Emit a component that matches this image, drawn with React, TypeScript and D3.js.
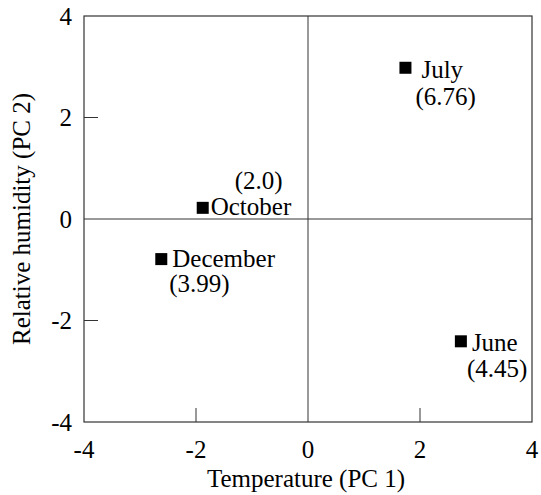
import React, { useEffect, useRef } from 'react';
import * as d3 from 'd3';

const months = ['July', 'October', 'December', 'June'];
const pc1 = [1.74, -1.88, -2.62, 2.73];
const pc2 = [2.98, 0.22, -0.79, -2.41];
const scores = ['(6.76)', '(2.0)', '(3.99)', '(4.45)'];
const xTicks = [-4, -2, 0, 2, 4];
const yTicks = [-4, -2, 0, 2, 4];

// label placement relative to the marker: [nameDx, nameDy, scoreDx, scoreDy]
const labelOffsets: Record<string, number[]> = {
  July: [16, 10, 10, 37],
  October: [8, 7, 32, -18.5],
  December: [11, 8, 8, 33],
  June: [11, 10, 6, 36],
};

const FONT = '"Liberation Serif", "Times New Roman", serif';
const FS = 25;

export default function App() {
  const svgRef = useRef<SVGSVGElement>(null);

  useEffect(() => {
    const width = 541;
    const height = 495;
    const margin = { top: 16, right: 9, bottom: 73, left: 84 };
    const svg = d3.select(svgRef.current);
    svg.selectAll('*').remove();

    const innerW = width - margin.left - margin.right;
    const innerH = height - margin.top - margin.bottom;

    const x = d3.scaleLinear().domain([-4, 4]).range([0, innerW]);
    const y = d3.scaleLinear().domain([-4, 4]).range([innerH, 0]);

    const g = svg.append('g').attr('transform', `translate(${margin.left},${margin.top})`);

    g.append('rect')
      .attr('width', innerW)
      .attr('height', innerH)
      .attr('fill', 'none')
      .attr('stroke', '#333')
      .attr('stroke-width', 1.2);

    // cross lines at zero
    g.append('line')
      .attr('x1', x(0)).attr('x2', x(0))
      .attr('y1', 0).attr('y2', innerH)
      .attr('stroke', '#333');
    g.append('line')
      .attr('x1', 0).attr('x2', innerW)
      .attr('y1', y(0)).attr('y2', y(0))
      .attr('stroke', '#333');

    const tickLen = 14;
    xTicks.filter(t => t !== 0 && Math.abs(t) !== 4).forEach(t => {
      g.append('line')
        .attr('x1', x(t)).attr('x2', x(t))
        .attr('y1', innerH).attr('y2', innerH - tickLen)
        .attr('stroke', '#333');
    });
    yTicks.filter(t => t !== 0 && Math.abs(t) !== 4).forEach(t => {
      g.append('line')
        .attr('x1', 0).attr('x2', tickLen)
        .attr('y1', y(t)).attr('y2', y(t))
        .attr('stroke', '#333');
    });

    xTicks.forEach(t => {
      g.append('text')
        .attr('x', x(t))
        .attr('y', innerH + 36)
        .attr('text-anchor', 'middle')
        .attr('font-family', FONT)
        .attr('font-size', FS)
        .text(String(t));
    });
    yTicks.forEach(t => {
      g.append('text')
        .attr('x', -12)
        .attr('y', y(t) + 8.5)
        .attr('text-anchor', 'end')
        .attr('font-family', FONT)
        .attr('font-size', FS)
        .text(String(t));
    });

    g.append('text')
      .attr('x', innerW / 2 - 2)
      .attr('y', innerH + 65)
      .attr('text-anchor', 'middle')
      .attr('font-family', FONT)
      .attr('font-size', FS)
      .text('Temperature (PC 1)');

    g.append('text')
      .attr('transform', `translate(${30 - margin.left},${innerH / 2}) rotate(-90)`)
      .attr('text-anchor', 'middle')
      .attr('font-family', FONT)
      .attr('font-size', FS)
      .text('Relative humidity (PC 2)');

    const size = 12;
    months.forEach((m, i) => {
      const px = x(pc1[i]);
      const py = y(pc2[i]);
      g.append('rect')
        .attr('x', px - size / 2)
        .attr('y', py - size / 2)
        .attr('width', size)
        .attr('height', size)
        .attr('fill', '#000');
      const [ndx, ndy, sdx, sdy] = labelOffsets[m];
      g.append('text')
        .attr('x', px + ndx)
        .attr('y', py + ndy)
        .attr('font-family', FONT)
        .attr('font-size', FS)
        .text(m);
      g.append('text')
        .attr('x', px + sdx)
        .attr('y', py + sdy)
        .attr('font-family', FONT)
        .attr('font-size', FS)
        .text(scores[i]);
    });
  }, []);

  return (
    <svg
      ref={svgRef}
      width={541}
      height={495}
      style={{ position: 'absolute', left: 0, top: 0, background: '#fff' }}
    />
  );
}
